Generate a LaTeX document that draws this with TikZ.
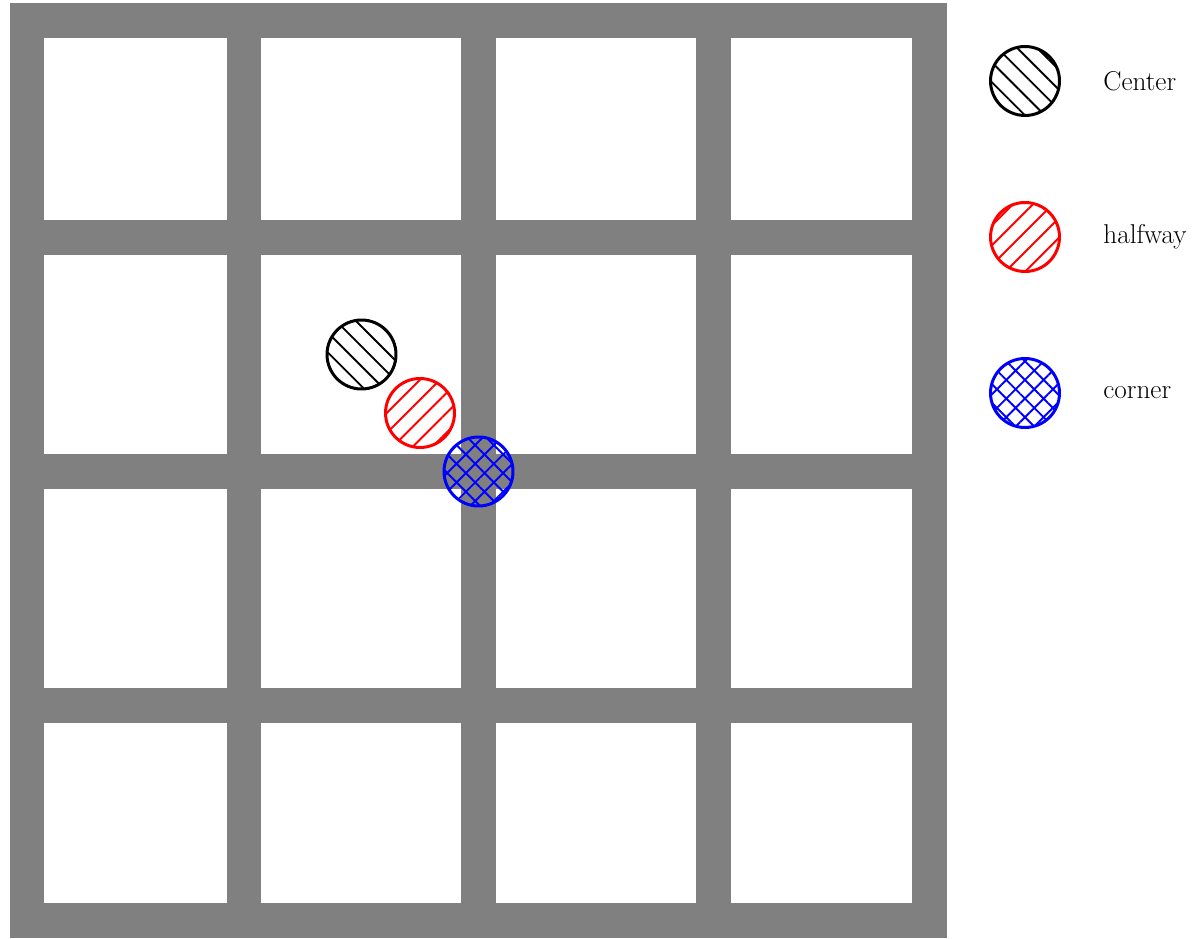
\documentclass[tikz,border=0pt]{standalone}
\usepackage{xcolor}
\usepackage{tikz}
\usetikzlibrary{patterns.meta}

\begin{document}
\begin{tikzpicture}[
  x=0.02cm, y=-0.02cm,
  bar/.style     ={draw=gray, line width=0.7cm},
  spot/.style    ={circle, minimum size=1.38cm, inner sep=0pt, line width=1.7pt},
  ctrspot/.style ={spot, draw=black,
                   pattern={Lines[angle=-45, distance=8pt, line width=1.1pt]},
                   pattern color=black},
  halfspot/.style={spot, draw=red,
                   pattern={Lines[angle=45, distance=8pt, line width=1.1pt]},
                   pattern color=red},
  cornspot/.style={spot, draw=blue,
                   pattern={Hatch[angle=45, distance=7.5pt, line width=1.1pt]},
                   pattern color=blue},
  lbl/.style     ={anchor=west, inner sep=0pt, font=\fontsize{15.5}{18}\selectfont}
]
\useasboundingbox (0,0) rectangle (1200,939);

%% ── Grid ─────────────────────────────────────────────────────────────
\draw[bar, line join=miter] (27,20.5) rectangle (929,920);
\foreach \gx in {244,478.5,713}
  \draw[bar] (\gx,20.5) -- (\gx,920);
\foreach \gy in {237.5,471.5,705.5}
  \draw[bar] (27,\gy) -- (929,\gy);

%% ── Sample points ────────────────────────────────────────────────────
\node[ctrspot]  (ctr)  at (361.5,354.5) {};
\node[halfspot] (half) at (420,413)     {};
\node[cornspot] (corn) at (478.5,471.5) {};

%% ── Legend ───────────────────────────────────────────────────────────
\node[ctrspot]  (ctrkey)  at (1025,81)  {};
\node[halfspot] (halfkey) at (1025,237) {};
\node[cornspot] (cornkey) at (1025,393) {};

\node[lbl] (ctrtxt)  at (1103,81)  {Center};
\node[lbl] (halftxt) at (1103,237) {halfway};
\node[lbl] (corntxt) at (1103,393) {corner};

\end{tikzpicture}
\end{document}
